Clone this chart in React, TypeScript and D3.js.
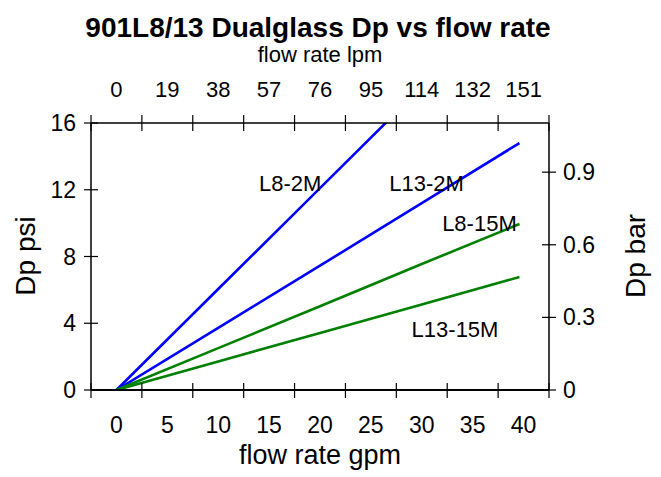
import React, { useRef, useEffect } from 'react'
import * as d3 from 'd3'

// flow rate in gpm, Dp in psi
const flowGpm = [0, 10, 20, 30, 39.6]
const l8_2m = [0, 6.05, 12.1, 18.15, 24.0]
const l13_2m = [0, 3.72, 7.45, 11.2, 14.8]
const l8_15m = [0, 2.51, 5.02, 7.55, 9.95]
const l13_15m = [0, 1.71, 3.42, 5.13, 6.77]

const seriesNames = ['L8-2M', 'L13-2M', 'L8-15M', 'L13-15M']
const seriesColors = ['#0000ff', '#0000ff', '#008000', '#008000']
// label anchor in data units (gpm, psi)
const labelGpm = [14, 26.8, 32, 29]
const labelPsi = [11.9, 11.9, 9.55, 3.2]

const gpmTicks = [0, 5, 10, 15, 20, 25, 30, 35, 40]
const gpmTickMarks = [-2.5, 2.5, 7.5, 12.5, 17.5, 22.5, 27.5, 32.5, 37.5, 42.5]
const lpmLabels = ['0', '19', '38', '57', '76', '95', '114', '132', '151']
const psiTicks = [0, 4, 8, 12, 16]
const barTicks = ['0', '0.3', '0.6', '0.9']

const PSI_TO_BAR = 0.0689476
const FONT = '"Liberation Sans", Arial, sans-serif'

const App: React.FC = () => {
  const svgRef = useRef<SVGSVGElement>(null)

  useEffect(() => {
    if (!svgRef.current) return
    const svg = d3.select(svgRef.current)
    svg.selectAll('*').remove()

    const left = 91, right = 549, top = 123, bottom = 390

    const x = d3.scaleLinear().domain([-2.5, 42.5]).range([left, right])
    const y = d3.scaleLinear().domain([0, 16]).range([bottom, top])
    const yBar = d3.scaleLinear().domain([0, 16 * PSI_TO_BAR]).range([bottom, top])

    svg.append('defs').append('clipPath').attr('id', 'plot-clip')
      .append('rect')
      .attr('x', left).attr('y', top)
      .attr('width', right - left).attr('height', bottom - top)

    // data lines
    const line = d3.line<number>()
      .x((d, i) => x(flowGpm[i]))
      .y(d => y(d))

    const allSeries = [l8_2m, l13_2m, l8_15m, l13_15m]
    svg.append('g').attr('clip-path', 'url(#plot-clip)')
      .selectAll('path')
      .data(allSeries)
      .enter()
      .append('path')
      .attr('d', d => line(d))
      .attr('fill', 'none')
      .attr('stroke', (d, i) => seriesColors[i])
      .attr('stroke-width', 2.6)

    // frame
    const frame = svg.append('g').attr('stroke', '#000').attr('fill', 'none')
    frame.append('line').attr('x1', left).attr('x2', right).attr('y1', top).attr('y2', top).attr('stroke-width', 1.5)
    frame.append('line').attr('x1', left).attr('x2', right).attr('y1', bottom).attr('y2', bottom).attr('stroke-width', 2)
    frame.append('line').attr('x1', left).attr('x2', left).attr('y1', top).attr('y2', bottom).attr('stroke-width', 1.5)
    frame.append('line').attr('x1', right).attr('x2', right).attr('y1', top).attr('y2', bottom).attr('stroke-width', 1.5)

    // tick marks crossing the frame
    gpmTickMarks.forEach(v => {
      frame.append('line').attr('x1', x(v)).attr('x2', x(v)).attr('y1', bottom - 7).attr('y2', bottom + 8).attr('stroke-width', 1.2)
      frame.append('line').attr('x1', x(v)).attr('x2', x(v)).attr('y1', top - 8).attr('y2', top + 8).attr('stroke-width', 1.2)
    })
    psiTicks.forEach(v => {
      frame.append('line').attr('x1', left - 7).attr('x2', left + 7).attr('y1', y(v)).attr('y2', y(v)).attr('stroke-width', 1.2)
    })
    barTicks.forEach(v => {
      frame.append('line').attr('x1', right - 7).attr('x2', right + 7).attr('y1', yBar(+v)).attr('y2', yBar(+v)).attr('stroke-width', 1.2)
    })

    const txt = svg.append('g').attr('font-family', FONT).attr('fill', '#000')

    // bottom labels
    gpmTicks.forEach(v => {
      txt.append('text').attr('x', x(v)).attr('y', 433).attr('text-anchor', 'middle')
        .attr('font-size', 23).text(String(v))
    })
    // top labels (lpm)
    gpmTicks.forEach((v, i) => {
      txt.append('text').attr('x', x(v)).attr('y', 97).attr('text-anchor', 'middle')
        .attr('font-size', 22).text(lpmLabels[i])
    })
    // left labels
    psiTicks.forEach(v => {
      txt.append('text').attr('x', 76).attr('y', y(v) + 8).attr('text-anchor', 'end')
        .attr('font-size', 23).text(String(v))
    })
    // right labels
    barTicks.forEach(v => {
      txt.append('text').attr('x', 563).attr('y', yBar(+v) + 8).attr('text-anchor', 'start')
        .attr('font-size', 23).text(v)
    })

    // series labels
    seriesNames.forEach((n, i) => {
      txt.append('text').attr('x', x(labelGpm[i])).attr('y', y(labelPsi[i]))
        .attr('font-size', 22).text(n)
    })

    // titles
    txt.append('text').attr('x', 318).attr('y', 37).attr('text-anchor', 'middle')
      .attr('font-size', 28).attr('font-weight', 'bold')
      .text('901L8/13 Dualglass Dp vs flow rate')
    txt.append('text').attr('x', 320).attr('y', 62).attr('text-anchor', 'middle')
      .attr('font-size', 22).text('flow rate lpm')
    txt.append('text').attr('x', 320).attr('y', 464).attr('text-anchor', 'middle')
      .attr('font-size', 27).text('flow rate gpm')
    txt.append('text').attr('transform', 'translate(35,256) rotate(-90)').attr('text-anchor', 'middle')
      .attr('font-size', 28).text('Dp psi')
    txt.append('text').attr('transform', 'translate(645,256) rotate(-90)').attr('text-anchor', 'middle')
      .attr('font-size', 28).text('Dp bar')
  }, [])

  return (
    <svg
      ref={svgRef}
      width={661}
      height={477}
      style={{ position: 'absolute', left: 0, top: 0, background: '#fff' }}
    />
  )
}

export default App
